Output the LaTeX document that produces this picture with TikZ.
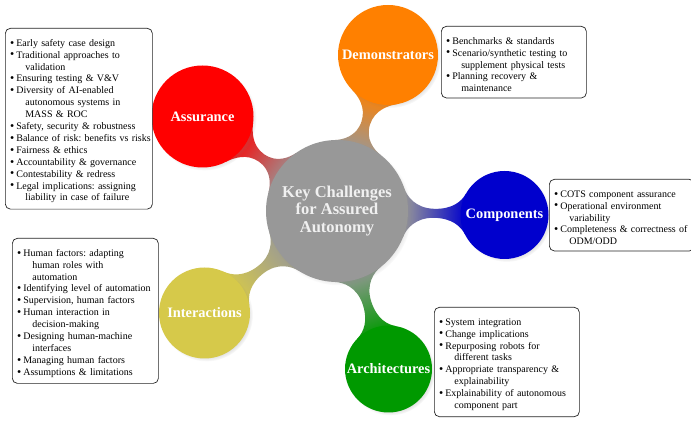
\documentclass[tikz,border=0pt]{standalone}
\usepackage{fontspec}
\setmainfont{Liberation Serif}
\usetikzlibrary{shadows,backgrounds}
\definecolor{cgray}{RGB}{152,152,152}
\definecolor{cred}{RGB}{255,0,0}
\definecolor{corange}{RGB}{255,128,0}
\definecolor{cblue}{RGB}{0,0,205}
\definecolor{cyellow}{RGB}{214,201,74}
\definecolor{cgreen}{RGB}{0,153,0}
\newcommand\itm[1]{\par\noindent\makebox[6pt][l]{\raisebox{0.2pt}{\fontsize{10.5}{10.5}\selectfont\bfseries\textbullet}}\mbox{#1}\par}
\newcommand\cont[1]{\par\noindent\hspace*{15pt}\mbox{#1}\par}
\makeatletter
\newcommand\conn[4]{%
  \pgfpointdiff{\pgfpointanchor{#1}{center}}{\pgfpointanchor{#2}{center}}%
  \edef\cdx{\pgf@sys@tonumber{\pgf@x}}\edef\cdy{\pgf@sys@tonumber{\pgf@y}}%
  \pgfmathsetmacro\cphi{atan2(\cdy,\cdx)}%
  \pgfmathsetmacro\cdist{veclen(\cdx,\cdy)}%
  \pgfmathsetmacro\cang{90+\cphi}%
  \pgfmathsetmacro\Ra{71}%
  \pgfmathsetmacro\ra{#3}%
  \pgfmathsetmacro\xa{\Ra}\pgfmathsetmacro\xb{\cdist-\ra}%
  \pgfmathsetmacro\xm{(\xa+\xb)/2}\pgfmathsetmacro\mm{0.35*(\xb-\xa)}%
  \pgfmathsetmacro\pax{\Ra*cos(20)}\pgfmathsetmacro\pay{\Ra*sin(20)}%
  \pgfmathsetmacro\cax{\pax+9*sin(20)}\pgfmathsetmacro\cay{\pay-9*cos(20)}%
  \pgfmathsetmacro\pbx{\cdist-\ra*cos(28)}\pgfmathsetmacro\pby{\ra*sin(28)}%
  \pgfmathsetmacro\cbx{\pbx-9*sin(28)}\pgfmathsetmacro\cby{\pby-9*cos(28)}%
  \begin{scope}[shift={(#1.center)},rotate=\cphi]
    \shade[left color=cgray,right color=#4,shading angle=\cang]
      (\pax,\pay) .. controls (\cax,\cay) and ({\xm-\mm},4.5) .. (\xm,4.5)
      .. controls ({\xm+\mm},4.5) and (\cbx,\cby) .. (\pbx,\pby)
      -- (\pbx,{-(\pby)}) .. controls (\cbx,{-(\cby)}) and ({\xm+\mm},-4.5) .. (\xm,-4.5)
      .. controls ({\xm-\mm},-4.5) and (\cax,{-(\cay)}) .. (\pax,{-(\pay)}) -- cycle;
  \end{scope}}
\makeatother
\tikzset{
  rootc/.style={circle,fill=cgray,minimum size=142pt,inner sep=0pt,text=white!94!black,align=center,
    font=\fontsize{16.5}{17.5}\selectfont\bfseries,
    circular drop shadow={shadow xshift=2pt,shadow yshift=-2pt,shadow scale=1.02,opacity=0.35}},
  conc/.style={circle,inner sep=0pt,text=white,align=center,
    font=\fontsize{14.4}{16}\selectfont\bfseries,
    circular drop shadow={shadow xshift=2pt,shadow yshift=-2pt,shadow scale=1.02,opacity=0.35}},
  infobox/.style={draw=black!85,line width=0.7pt,rounded corners=5pt,fill=white,
    inner xsep=5pt,inner ysep=6pt,anchor=north west,
    font=\fontsize{10}{11.9}\selectfont,
    execute at begin node={\frenchspacing\rightskip=0pt plus 1fil\parskip=0pt\parindent=0pt\hfuzz=40pt}}
}
\begin{document}
\begin{tikzpicture}[x=1pt,y=1pt]
\useasboundingbox (0,0) rectangle (691,422);

\node[rootc] (root) at (337,211) {Key Challenges\\for Assured\\Autonomy};
\node[conc,fill=cred,minimum size=102pt] (assur) at (202.5,305.5) {Assurance};
\node[conc,fill=corange,minimum size=100pt] (demo) at (388,367) {Demonstrators};
\node[conc,fill=cblue,minimum size=88pt] (comp) at (504.5,207) {Components};
\node[conc,fill=cyellow,minimum size=91pt] (inter) at (204.5,109) {Interactions};
\node[conc,fill=cgreen,minimum size=87pt] (arch) at (388.5,53) {Architectures};

\begin{pgfonlayer}{background}
  \fill[white] (0,0) rectangle (691,422);
  \conn{root}{assur}{51}{cred}
  \conn{root}{demo}{50}{corange}
  \conn{root}{comp}{44}{cblue}
  \conn{root}{inter}{45.5}{cyellow}
  \conn{root}{arch}{43.5}{cgreen}
\end{pgfonlayer}

\node[infobox,text width=137pt] (abox) at (5,394) {%
\itm{\rule{0pt}{11.5pt}Early safety case design}
\itm{Traditional approaches to}\cont{validation}
\itm{Ensuring testing \& V\&V}
\itm{Diversity of AI-enabled}\cont{autonomous systems in}\cont{MASS \& ROC}
\itm{Safety, security \& robustness}
\itm{Balance of risk: benefits vs risks}
\itm{Fairness \& ethics}
\itm{Accountability \& governance}
\itm{Contestability \& redress}
\itm{Legal implications: assigning}\cont{liability in case of failure}};

\node[infobox,text width=135pt] (dbox) at (441,396) {%
\itm{\rule{0pt}{11.5pt}Benchmarks \& standards}
\itm{Scenario/synthetic testing to}\cont{supplement physical tests}
\itm{Planning recovery \&}\cont{maintenance}};

\node[infobox,text width=135pt] (cbox) at (549,243) {%
\itm{\rule{0pt}{11.5pt}COTS component assurance}
\itm{Operational environment}\cont{variability}
\itm{Completeness \& correctness of}\cont{ODM/ODD}};

\node[infobox,text width=136pt] (ibox) at (12,184) {%
\itm{\rule{0pt}{11.5pt}Human factors: adapting}\cont{human roles with}\cont{automation}
\itm{Identifying level of automation}
\itm{Supervision, human factors}
\itm{Human interaction in}\cont{decision-making}
\itm{Designing human-machine}\cont{interfaces}
\itm{Managing human factors}
\itm{Assumptions \& limitations}};

\node[infobox,text width=135pt] (arbox) at (434,115) {%
\itm{\rule{0pt}{11.5pt}System integration}
\itm{Change implications}
\itm{Repurposing robots for}\cont{different tasks}
\itm{Appropriate transparency \&}\cont{explainability}
\itm{Explainability of autonomous}\cont{component part}};
\end{tikzpicture}
\end{document}
